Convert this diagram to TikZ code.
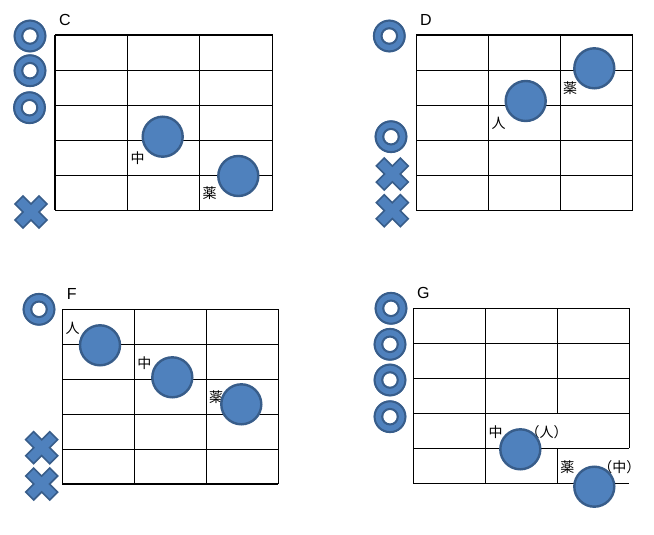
\documentclass[tikz,border=0pt]{standalone}
\usepackage{fontspec}
\setmainfont{Liberation Sans}
\newfontfamily\cjk{Noto Sans CJK JP}
\definecolor{bluefill}{RGB}{79,129,189}
\definecolor{blueedge}{RGB}{56,93,138}
\tikzset{
  gridline/.style={line width=1.1pt, black},
  ball/.style={circle, fill=bluefill, draw=blueedge, line width=2.4pt, minimum size=40pt, inner sep=0pt},
  title/.style={font=\fontsize{16}{16}\selectfont, inner sep=0pt},
  lbl/.style={font=\cjk\fontsize{14}{14}\selectfont, inner sep=0pt},
  pics/ringmark/.style={code={
    \fill[bluefill, even odd rule] (0,0) circle[radius=16.3] (0,0) circle[radius=7];
    \draw[blueedge, line width=2pt] (0,0) circle[radius=15.4] (0,0) circle[radius=7.8];
  }},
  pics/crossmark/.style={code={
    \filldraw[fill=bluefill, draw=blueedge, line width=1.6pt, rotate=45]
      (17,5.6) -- (5.6,5.6) -- (5.6,17) -- (-5.6,17) -- (-5.6,5.6) -- (-17,5.6)
      -- (-17,-5.6) -- (-5.6,-5.6) -- (-5.6,-17) -- (5.6,-17) -- (5.6,-5.6) -- (17,-5.6) -- cycle;
  }},
}
\begin{document}
\begin{tikzpicture}[x=1pt, y=-1pt]
\useasboundingbox[fill=white] (0,0) rectangle (654,535);

% ---------- C ----------
\node[title] (tC) at (65,20) {C};
\foreach \y in {35,70.3,105.3,140.3,175.3,210.3} \draw[gridline] (55,\y) -- (272.7,\y);
\foreach \x in {55,127.3,199.3,272.7} \draw[gridline] (\x,35) -- (\x,210.3);
\pic at (30,36) {ringmark};
\pic at (30,70.7) {ringmark};
\pic at (29.5,107.7) {ringmark};
\pic at (31,212) {crossmark};
\node[lbl] (lC1) at (137.5,158.3) {中};
\node[lbl] (lC2) at (209.5,193.3) {薬};
\node[ball] (bC1) at (162.7,136.7) {};
\node[ball] (bC2) at (238.3,176) {};

% ---------- D ----------
\node[title] (tD) at (426,20) {D};
\foreach \y in {35,70.3,105.3,140.3,175.3,210.3} \draw[gridline] (416.3,\y) -- (632.7,\y);
\foreach \x in {416.3,488.3,560.3,632.7} \draw[gridline] (\x,35) -- (\x,210.3);
\pic at (389.3,36) {ringmark};
\pic at (391,136.7) {ringmark};
\pic at (392.3,174) {crossmark};
\pic at (392.3,210.7) {crossmark};
\node[lbl] (lD1) at (498.5,123.3) {人};
\node[lbl] (lD2) at (570,88.3) {薬};
\node[ball] (bD1) at (525.7,101) {};
\node[ball] (bD2) at (594.3,68.3) {};

% ---------- F ----------
\node[title] (tF) at (71.7,294) {F};
\foreach \y in {309.3,344.3,379.3,414.3,449.3,484} \draw[gridline] (62.3,\y) -- (278.3,\y);
\foreach \x in {62.3,134.3,206.3,278.3} \draw[gridline] (\x,309.3) -- (\x,484);
\pic at (39,309.3) {ringmark};
\pic at (41.7,447.7) {crossmark};
\pic at (41.7,484) {crossmark};
\node[lbl] (lF1) at (72.7,328.3) {人};
\node[lbl] (lF2) at (144.3,362.7) {中};
\node[lbl] (lF3) at (216,397.3) {薬};
\node[ball] (bF1) at (100,345.3) {};
\node[ball] (bF2) at (172.3,377.3) {};
\node[ball] (bF3) at (241.3,404.3) {};

% ---------- G ----------
\node[title] (tG) at (423.3,293.3) {G};
\foreach \y in {308.3,343.3,378.3,413.3,448.3,483.3} \draw[gridline] (413.3,\y) -- (629.3,\y);
\draw[gridline] (413.3,308.3) -- (413.3,483.3);
\draw[gridline] (485.3,308.3) -- (485.3,483.3);
\draw[gridline] (557.3,308.3) -- (557.3,413.3);
\draw[gridline] (557.3,448.3) -- (557.3,483.3);
\draw[gridline] (629.3,308.3) -- (629.3,448.3);
\pic at (391,308.3) {ringmark};
\pic at (390,344.3) {ringmark};
\pic at (390,380) {ringmark};
\pic at (390,416.7) {ringmark};
\node[lbl] (lG1) at (495.7,431.7) {中};
\node[lbl] (lG2) at (546.7,431.7) {（人）};
\node[lbl] (lG3) at (567.3,466.7) {薬};
\node[lbl] (lG4) at (619.3,466.7) {（中）};
\node[ball] (bG1) at (520.3,449.3) {};
\node[ball] (bG2) at (594.3,486.7) {};
\end{tikzpicture}
\end{document}
